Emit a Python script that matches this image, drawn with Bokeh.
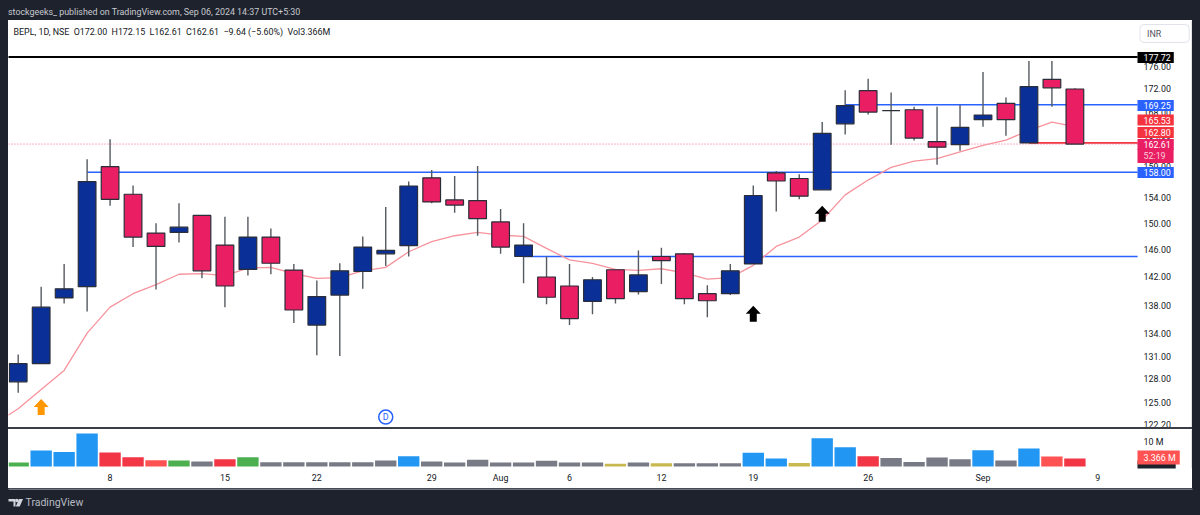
from math import exp
from bokeh.plotting import figure
from bokeh.layouts import column
from bokeh.core.properties import value
from bokeh.models import Range1d, FixedTicker, Label, PrintfTickFormatter, Div, Span
from bokeh.embed import file_html
from bokeh.resources import INLINE

# ---- data ----
opens  = [127.6,130.0,139.0,140.6,158.9,154.5,148.5,148.6,151.2,146.7,143.1,147.9,143.0,135.2,139.4,142.8,145.4,146.6,
          157.1,153.6,153.5,150.2,145.0,142.0,140.7,138.5,143.05,139.9,145.0,145.4,139.6,139.6,143.9,157.9,157.0,155.2,
          166.0,171.7,168.25,168.4,163.0,162.5,166.7,169.5,162.8,173.7,172.0]
highs  = [131.2,140.6,143.9,160.1,163.4,155.9,150.0,153.1,151.2,151.0,151.0,149.2,143.9,141.5,144.0,148.0,152.5,156.5,
          158.35,157.4,159.0,152.2,150.0,145.0,143.9,142.0,143.05,145.9,146.3,145.5,140.8,143.9,155.9,158.2,157.7,166.3,
          171.8,173.8,171.4,168.9,168.9,169.2,175.0,170.5,177.0,177.0,172.15]
lows   = [126.2,130.0,138.2,137.1,152.7,146.4,140.2,147.1,141.8,137.7,142.2,142.4,135.5,131.1,131.0,140.3,143.6,145.0,
          153.1,151.6,148.1,145.4,141.1,138.1,135.2,136.7,138.2,139.5,141.0,138.1,136.3,139.4,143.9,151.8,153.7,155.2,
          164.2,167.6,162.5,163.2,159.2,161.5,165.5,164.0,162.8,168.9,162.61]
closes = [130.0,137.7,140.3,156.5,153.7,147.9,146.5,149.4,142.9,140.7,147.9,144.0,137.3,139.2,142.9,146.4,145.9,155.8,
          153.3,152.8,150.7,146.4,146.7,139.1,136.1,141.6,138.9,142.3,144.4,138.9,138.6,142.9,154.3,156.6,154.2,164.4,
          169.1,168.0,168.25,163.6,162.1,165.4,167.5,166.7,172.4,172.2,162.61]
ema_days   = list(range(-1, 47))
ema_values = [122.3,124.15,126.62,129.1,134.1,137.7,139.6,140.9,142.4,142.5,142.2,143.3,143.4,142.5,141.8,141.9,142.9,143.4,
              145.7,147.2,148.1,148.6,148.2,148.0,146.2,144.5,144.0,143.1,142.95,143.2,142.6,141.7,141.9,143.7,146.5,
              147.9,150.5,154.4,156.75,158.8,159.8,160.2,161.3,162.4,163.25,164.9,166.3,165.53]
volumes = [1.7,6.7,6.0,13.75,5.8,3.9,2.6,2.5,2.1,3.05,3.9,1.8,1.8,1.8,1.8,1.8,2.5,4.3,
           2.1,1.7,2.8,1.7,1.7,2.4,1.7,1.7,1.1,1.7,1.4,1.4,1.4,1.4,5.7,3.3,1.5,11.8,8.05,4.3,3.5,1.9,3.75,3.05,6.8,2.5,7.5,4.2,3.366]
VB, VR, VL, VG, VN, VY = "#2196f3", "#f23645", "#ff5252", "#4caf50", "#787b86", "#c9b84f"
volume_colors = [VG,VB,VB,VB,VR,VR,VL,VG,VN,VR,VG,VN,VN,VN,VN,VN,VN,VB,
                 VN,VN,VN,VN,VN,VN,VN,VN,VY,VN,VY,VN,VN,VN,VB,VB,VY,VB,VB,VR,VN,VN,VN,VN,VB,VN,VB,VL,VR]
hline_levels = [177.72, 169.25, 158.00, 145.00, 162.80]
hline_starts = [-1, 36, 3, 22, 44]
hline_colors = ["#000000", "#2962ff", "#2962ff", "#2962ff", "#f23645"]
last_price = 162.61
price_ticks = [176,172,168,164,159,154,150,146,142,138,134,131,128,125,122.2]
date_ticks  = [4,9,13,18,21,24,28,32,37,42,47]
date_labels = ["8","15","22","29","Aug","6","12","19","26","Sep","9"]
volume_ticks = [10]
arrow_days   = [1, 32, 35]
arrow_prices = [125.4, 137.9, 152.7]
arrow_colors = ["#ff9800", "#000000", "#000000"]
dividend_day, dividend_price = 16, 123.1

FONT = "Roboto"
DARK = "#1e222d"
INK = "#131722"
EDGE = "#c4c6cc"
XMIN, XEND, XMAX = -0.422, 48.73, 51.12
W = 1184
TS = 8.9
WHITE_BG = {"background-color": "white"}

def label(p, text, x, y, color=INK, size=TS, bg=None, pad=0, align="left", style="normal", radius=0, border=None):
    lab = Label(text=text, x=x, y=y, x_units="screen", y_units="screen", text_color=color, text_font=FONT,
                text_font_size=f"{size}px", text_align=align, text_baseline="middle", text_font_style=style,
                background_fill_color=bg, padding=pad, border_radius=radius, border_line_color=border)
    p.add_layout(lab)
    return lab

def bare(height, width=1200, **kw):
    f = figure(width=width, height=height, output_backend="svg", toolbar_location=None, min_border=0,
               x_axis_location=None, y_axis_location=None, **kw)
    f.grid.visible = False
    f.outline_line_color = None
    return f

def style_axis(a):
    a.axis_line_color = None
    a.major_tick_line_color = None
    a.minor_tick_line_color = None
    a.major_tick_out = 0
    a.major_tick_in = 0
    a.minor_tick_out = 0
    a.minor_tick_in = 0
    a.major_label_standoff = 6
    a.major_label_text_font = FONT
    a.major_label_text_font_size = f"{TS}px"
    a.major_label_text_color = INK

# ---- top strip ----
top = bare(20, x_range=Range1d(0, 1200), y_range=Range1d(0, 20), background_fill_color=DARK, border_fill_color=DARK)
label(top, "stockgeeks_ published on TradingView.com, Sep 06, 2024 14:37 UTC+5:30", 7.5, 9, color="#c8cad0")

# ---- price pane: the frame reaches the panel's right edge, the axis floats at the end of the time scale ----
PH = 407
PW = 1129
price = figure(width=W, height=PH + 3, output_backend="svg", toolbar_location=None, y_axis_type="log",
               x_range=Range1d(XMIN, XMAX), y_range=Range1d(121.8, 184.44), x_axis_location=None,
               y_axis_location="right", min_border=0, min_border_right=0, min_border_left=0,
               min_border_top=0, min_border_bottom=3, background_fill_color="white", border_fill_color="white",
               margin=(0, 8, 0, 8), styles=WHITE_BG)
price.grid.visible = False
price.outline_line_color = None
ax = price.yaxis[0]
ax.fixed_location = XEND
ax.ticker = FixedTicker(ticks=price_ticks)
ax.formatter = PrintfTickFormatter(format="%.2f")
style_axis(ax)
price.add_layout(Span(location=XMAX, dimension="height", line_color=EDGE, line_width=2))

n = len(opens)
days = list(range(n))
price.line([XMIN, XEND], [last_price, last_price], line_color="#f06292", line_width=1, line_dash=[1, 2])
price.segment(hline_starts, hline_levels, [XEND]*len(hline_levels), hline_levels, line_color=hline_colors,
              line_width=[2, 1.6, 1.6, 1.6, 1.6])
price.line(ema_days, ema_values, line_color="#f7939d", line_width=1.3)
price.segment(days, highs, days, lows, line_color="#555a60", line_width=1.4)
body_colors = ["#0a2f96" if c >= o else "#e91e63" for o, c in zip(opens, closes)]
price.vbar(x=days, top=opens, bottom=closes, width=0.77, fill_color=body_colors, line_color="#2a2e39", line_width=1.2)

# arrows, built around each marker's tip
shape_x = [0, 7.5, 3.5, 3.5, -3.5, -3.5, -7.5]
shape_y = [0, 8, 8, 16, 16, 8, 8]
axs = [[d + sx/22.97 for sx in shape_x] for d in arrow_days]
ays = [[pr*exp(-sy/982) for sy in shape_y] for pr in arrow_prices]
price.patches(axs, ays, fill_color=arrow_colors, line_color=None)

price.scatter([dividend_day], [dividend_price], size=14, marker="circle", fill_color="white",
              line_color="#2962ff", line_width=1.5)
price.text([dividend_day], [dividend_price], text=["D"], text_color="#2962ff", text_font=value(FONT), text_font_size="9px",
           text_align="center", text_baseline="middle")

def py(page_y):
    return PH - (page_y - 20)

NB = "\u00a0\u00a0"
label(price, NB.join(["BEPL, 1D, NSE", "O172.00", "H172.15", "L162.61", "C162.61", "\u22129.64 (\u22125.60%)", "Vol3.366M"]),
      5, py(31))
# padding order is left, right, top, bottom
label(price, "INR", 1131.5, py(33), color="#50535e", pad=(7, 28, 4, 4), radius=4, border="#e0e3eb", bg="white")
TAGX = PW
tags = [("177.72", 57, "#000000", "white"), ("169.25", 105, "#2962ff", "white"), ("165.53", 119.5, "#f5333f", "white"),
        ("162.80", 132, "#f5333f", "white"), ("162.61", 144, "#e91e63", "white"), ("52:19", 155.5, "#e91e63", "#fbd0dc"),
        ("158.00", 172, "#2962ff", "white")]
for text, y, bg, col in tags:
    extra = 8 if text == "52:19" else 3
    label(price, text, TAGX, py(y), color=col, bg=bg, pad=(6, extra, 2, 2))

# ---- separator ----
sep = Div(text="", width=W, height=2, margin=(-3, 8, 0, 8), styles={"background-color": "#3a3d45"})

# ---- volume pane ----
vol = figure(width=W, height=59, output_backend="svg", toolbar_location=None,
             x_range=Range1d(XMIN, XMAX), y_range=Range1d(-0.83, 15.4), y_axis_location="right",
             min_border=0, min_border_right=0, min_border_left=0, min_border_top=0, min_border_bottom=20,
             background_fill_color="white", border_fill_color="white", margin=(0, 8, 0, 8), styles=WHITE_BG)
vol.grid.visible = False
vol.outline_line_color = None
vol.vbar(x=days, top=volumes, width=0.93, fill_color=volume_colors, line_color=None)
xa = vol.xaxis[0]
xa.ticker = FixedTicker(ticks=date_ticks)
xa.major_label_overrides = dict(zip(date_ticks, date_labels))
style_axis(xa)
xa.major_label_standoff = 4
ya = vol.yaxis[0]
ya.fixed_location = XEND
ya.ticker = FixedTicker(ticks=volume_ticks)
ya.formatter = PrintfTickFormatter(format="%d M")
style_axis(ya)
vol.add_layout(Span(location=XMAX, dimension="height", line_color=EDGE, line_width=2))
label(vol, "\u00a0", PW, 2, bg=DARK, pad=(0, 36, 1, 1))
label(vol, "3.366 M", PW, 11, color="white", bg="#ff5252", pad=(6, 4, 2, 2))

# ---- bottom strip ----
foot = bare(27, x_range=Range1d(0, 1200), y_range=Range1d(515, 488), background_fill_color=DARK, border_fill_color=DARK)
foot.line([8, 1192], [488.5, 488.5], line_color=EDGE, line_width=1)
foot.patches([[8, 15, 15, 13, 13, 10.5, 10.5, 8], [18.5, 22.5, 19.2, 15.3]],
             [[498.5, 498.5, 506, 506, 501, 501, 501, 501], [498.5, 498.5, 506, 506]],
             fill_color="#d1d4dc", line_color=None)
foot.scatter([16.4], [500], size=3.5, marker="circle", fill_color="#d1d4dc", line_color=None)
label(foot, "TradingView", 25, 13, color="#b8bbc3", size=10.5)

layout = column(top, price, sep, vol, foot, spacing=0, styles={"background-color": DARK})
open("out.html", "w").write(file_html(layout, INLINE))
